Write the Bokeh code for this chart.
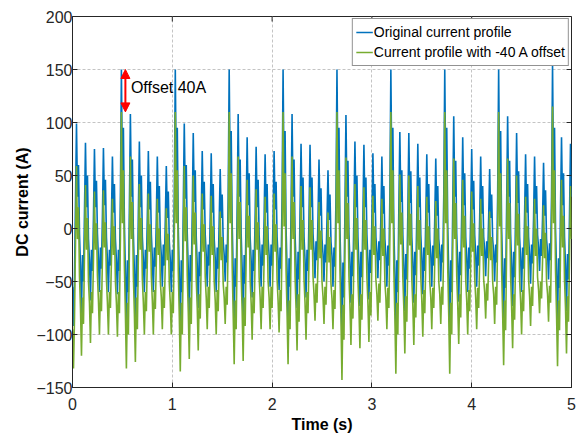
import math
from bokeh.plotting import figure
from bokeh.models import (Range1d, FixedTicker, Legend, LegendItem,
                          Arrow, NormalHead, Label)
from bokeh.embed import file_html
from bokeh.resources import INLINE

# ---------------- data ----------------
sample_step = 0.01  # s between samples
original_current = [
    -55, -92, -45, 25,
    99, 30, 60, -5, -35, -80, -25, -50, 15,
    81, 20, 50, -10, -30, -68, -20, -40, 10,
    75, 20, 45, -5, -28, -60, -18, -38, 12,
    76, 22, 46, -8, -30, -60, -20, -35, 10,
    68, 15, 42, -10, -30, -62, -20, -40, 30,
    150, 45, 95, 5, -40, -92, -30, -60, 20,
    108, 30, 65, -5, -40, -86, -25, -55, 15,
    82, 20, 50, -8, -30, -60, -20, -38, 12,
    73, 18, 44, -6, -28, -60, -18, -36, 10,
    68, 15, 40, -10, -25, -55, -15, -35, 8,
    59, 10, 35, -12, -30, -60, -20, -40, 30,
    150, 45, 95, 0, -42, -95, -30, -60, 20,
    99, 28, 60, -5, -38, -83, -25, -50, 15,
    90, 25, 55, -8, -35, -75, -22, -45, 12,
    73, 18, 44, -6, -25, -55, -15, -35, 10,
    71, 15, 42, -10, -28, -60, -18, -38, 8,
    56, 10, 32, -12, -25, -50, -15, -32, 30,
    150, 45, 92, 5, -40, -88, -28, -55, 20,
    108, 30, 65, -5, -38, -85, -25, -52, 15,
    86, 22, 52, -8, -30, -65, -20, -40, 12,
    77, 20, 46, -6, -25, -55, -15, -35, 10,
    70, 15, 42, -10, -25, -55, -15, -35, 10,
    73, 18, 44, -8, -28, -58, -18, -38, 30,
    150, 42, 92, 0, -40, -88, -28, -55, 18,
    108, 30, 65, -5, -35, -75, -22, -48, 15,
    80, 20, 48, -8, -30, -65, -20, -40, 12,
    79, 20, 48, -5, -22, -47, -12, -30, 10,
    65, 12, 38, -10, -24, -50, -15, -32, 8,
    55, 8, 32, -12, -26, -55, -18, -36, 30,
    150, 45, 95, 0, -45, -103, -32, -65, 20,
    107, 30, 64, -5, -32, -70, -22, -45, 15,
    82, 20, 50, -8, -34, -73, -22, -46, 12,
    79, 20, 48, -6, -30, -67, -20, -42, 10,
    71, 15, 42, -8, -22, -47, -12, -30, 10,
    68, 14, 40, -10, -25, -55, -16, -35, 30,
    150, 45, 95, 0, -42, -97, -30, -60, 20,
    91, 25, 55, -6, -35, -78, -24, -48, 14,
    90, 24, 54, -8, -32, -70, -22, -44, 12,
    80, 20, 48, -6, -28, -62, -18, -40, 10,
    70, 15, 42, -10, -25, -55, -16, -35, 10,
    66, 12, 40, -10, -22, -50, -15, -32, 30,
    150, 45, 95, 2, -42, -97, -30, -60, 20,
    106, 30, 64, -5, -32, -69, -22, -44, 15,
    86, 22, 52, -8, -28, -60, -18, -38, 12,
    75, 18, 45, -6, -25, -55, -16, -35, 10,
    68, 14, 40, -8, -20, -45, -12, -28, 10,
    56, 10, 32, -10, -22, -50, -15, -32, 30,
    150, 42, 92, 0, -40, -89, -28, -56, 20,
    106, 30, 64, -5, -34, -73, -22, -46, 15,
    90, 24, 54, -8, -28, -60, -18, -38, 12,
    70, 15, 42, -8, -24, -52, -15, -33, 10,
    68, 14, 40, -6, -18, -40, -10, -26, 10,
    62, 12, 36, -10, -22, -48, -14, -30, 30,
    155, 45, 95, 0, -40, -90, -28, -56, 20,
    86, 22, 52, -8, -35, -78, -24, -48, 12,
    80, 30,
]
offset_amount = 40  # A
offset_current = [v - offset_amount for v in original_current]
time_s = [round(i * sample_step, 2) for i in range(len(original_current))]

x_ticks = [0, 1, 2, 3, 4, 5]
y_ticks = [-150, -100, -50, 0, 50, 100, 150, 200]
x_lim = (0, 5)
y_lim = (-150, 200)
series_names = ["Original current profile", "Current profile with -40 A offset"]
annotation_text = "Offset 40A"
arrow_time = 0.53
arrow_top = 150
label_time = 0.585
label_value = 133

FONT = "Liberation Sans"
DARK = "#262626"
BLUE = "#0072BD"
GREEN = "#77AC30"

# ---------------- figure ----------------
p = figure(width=580, height=435,
           x_range=Range1d(*x_lim), y_range=Range1d(*y_lim),
           output_backend="svg", toolbar_location=None,
           min_border_left=72, min_border_right=9,
           min_border_top=16, min_border_bottom=47,
           x_axis_label="Time (s)", y_axis_label="DC current (A)")
p.background_fill_color = "white"
p.border_fill_color = "white"
p.outline_line_color = DARK
p.outline_line_width = 1

for ax in (p.xaxis[0], p.yaxis[0]):
    ax.major_tick_in = 5
    ax.major_tick_out = 0
    ax.minor_tick_line_color = None
    ax.axis_line_color = DARK
    ax.major_tick_line_color = DARK
    ax.major_label_text_font = FONT
    ax.major_label_text_font_size = "16px"
    ax.major_label_text_color = DARK
    ax.axis_label_text_font = FONT
    ax.axis_label_text_font_size = "16px"
    ax.axis_label_text_font_style = "bold"
    ax.axis_label_text_color = "black"

p.xaxis.ticker = FixedTicker(ticks=x_ticks)
p.yaxis.ticker = FixedTicker(ticks=y_ticks)
p.xaxis.major_label_standoff = 10
p.xaxis.axis_label_standoff = 3
p.yaxis.major_label_standoff = 0
p.yaxis.axis_label_standoff = 2

p.xgrid.ticker = FixedTicker(ticks=x_ticks)
p.ygrid.ticker = FixedTicker(ticks=y_ticks)
for g in (p.xgrid[0], p.ygrid[0]):
    g.grid_line_color = "#c4c4c4"
    g.grid_line_dash = "3 2"
    g.grid_line_width = 1

r_orig = p.line(time_s, original_current, line_color=BLUE, line_width=1.6)
r_off = p.line(time_s, offset_current, line_color=GREEN, line_width=1.6)

# mirrored inward ticks on the top and right edges of the box
p.ray(x=x_ticks, y=[y_lim[1]] * len(x_ticks), length=5, length_units="screen",
      angle=-math.pi / 2, line_color=DARK, line_width=1)
p.ray(x=[x_lim[1]] * len(y_ticks), y=y_ticks, length=5, length_units="screen",
      angle=math.pi, line_color=DARK, line_width=1)

legend = Legend(items=[LegendItem(label=series_names[0], renderers=[r_orig]),
                       LegendItem(label=series_names[1], renderers=[r_off])],
                location="top_right", margin=2, padding=3, spacing=0,
                glyph_width=17, glyph_height=20, label_height=20,
                label_standoff=1,
                label_text_font=FONT, label_text_font_size="14px",
                label_text_color="black",
                border_line_color=DARK, border_line_width=1,
                background_fill_color="white", background_fill_alpha=1)
p.add_layout(legend)

arrow = Arrow(x_start=arrow_time, y_start=arrow_top - offset_amount,
              x_end=arrow_time, y_end=arrow_top,
              line_color="red", line_width=2,
              start=NormalHead(size=9, fill_color="red", line_color="red"),
              end=NormalHead(size=9, fill_color="red", line_color="red"))
p.add_layout(arrow)

p.add_layout(Label(x=label_time, y=label_value, text=annotation_text,
                   text_font=FONT, text_font_size="16px", text_color="black",
                   text_baseline="middle", text_align="left"))

open("out.html", "w").write(file_html(p, INLINE))
